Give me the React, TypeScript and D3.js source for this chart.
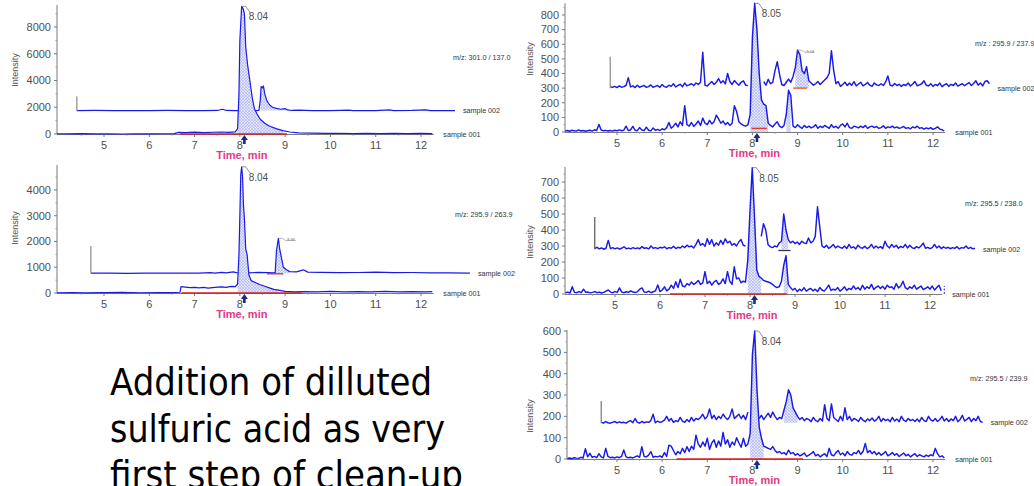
import React from 'react';
import * as d3 from 'd3';

type Pt = [number, number | null];

// ---------- DATA ----------
const STEP = 0.05;

// Panel 1 (m/z 301.0 / 137.0)
const P1_S001: Pt[] = [
  [3.96, 20], [4.2, 10], [4.5, 25], [4.8, 5], [5.1, 20], [5.4, 0], [5.7, 15], [6.0, 5], [6.3, 20], [6.55, 30],
  [6.65, 120], [6.8, 100], [7.0, 140], [7.2, 110], [7.4, 130], [7.6, 150], [7.75, 120], [7.9, 160], [7.95, 400],
  [7.98, 3000], [8.0, 7000], [8.02, 8300], [8.04, 9550], [8.07, 9400], [8.1, 9000], [8.13, 6500], [8.17, 5200],
  [8.22, 4000], [8.27, 2800], [8.32, 1900], [8.38, 1500], [8.45, 1100], [8.55, 800], [8.65, 600], [8.8, 400],
  [8.95, 250], [9.1, 150], [9.3, 90], [9.6, 60], [9.9, 40], [10.2, 55], [10.5, 30], [10.8, 50], [11.1, 35],
  [11.4, 45], [11.7, 30], [12.0, 50], [12.25, 30],
];
const P1_S002: Pt[] = [
  [4.4, 1750], [4.8, 1760], [5.2, 1745], [5.6, 1755], [6.0, 1750], [6.4, 1760], [6.8, 1750], [7.2, 1755],
  [7.5, 1760], [7.62, 1850], [7.7, 1760], [7.9, 1750], [8.3, 1750], [8.42, 1760], [8.45, 2500], [8.47, 3550],
  [8.5, 3450], [8.52, 3600], [8.55, 3000], [8.59, 2550], [8.63, 2300], [8.66, 2170], [8.72, 2000], [8.81, 1920],
  [8.9, 1850], [9.0, 1900], [9.05, 1800], [9.15, 1760], [9.3, 1780], [9.6, 1750], [10.0, 1755], [10.4, 1790],
  [10.5, 1750], [11.0, 1755], [11.3, 1800], [11.4, 1750], [11.8, 1760], [12.1, 1810], [12.2, 1750], [12.75, 1750],
];

// Panel 2 (m/z 295.9 / 263.9)
const P2_S001: Pt[] = [
  [3.96, 10], [4.3, 20], [4.6, 5], [5.0, 15], [5.4, 25], [5.8, 10], [6.2, 20], [6.5, 15], [6.68, 30], [6.7, 250],
  [6.8, 230], [6.9, 210], [7.0, 220], [7.1, 200], [7.2, 215], [7.3, 190], [7.4, 210], [7.5, 230], [7.6, 240],
  [7.7, 220], [7.8, 260], [7.9, 250], [7.95, 350], [7.98, 1500], [8.0, 3000], [8.02, 4600], [8.04, 4900],
  [8.06, 4500], [8.08, 3400], [8.1, 2900], [8.13, 1700], [8.16, 1500], [8.2, 700], [8.25, 480], [8.35, 400],
  [8.45, 320], [8.55, 260], [8.65, 200], [8.75, 140], [8.85, 110], [9.0, 60], [9.2, 40], [9.4, 55], [9.7, 45],
  [10.0, 60], [10.3, 40], [10.6, 55], [10.9, 45], [11.2, 60], [11.5, 45], [11.8, 55], [12.1, 40], [12.25, 50],
];
const P2_S002: Pt[] = [
  [4.71, 770], [5.1, 775], [5.5, 765], [5.9, 772], [6.3, 768], [6.7, 775], [7.1, 770], [7.35, 790], [7.45, 775],
  [7.6, 800], [7.7, 785], [7.85, 820], [7.92, 790], [8.2, 780], [8.4, 800], [8.6, 790], [8.75, 780], [8.78, 800],
  [8.81, 1670], [8.85, 2120], [8.88, 1700], [8.92, 1350], [8.96, 1000], [9.03, 900], [9.1, 830], [9.25, 820],
  [9.4, 900], [9.5, 810], [9.8, 800], [10.2, 790], [10.6, 795], [11.0, 810], [11.4, 790], [11.8, 795],
  [12.2, 785], [12.6, 780], [13.08, 775],
];

// Panel 3 (m/z 295.9 / 237.9)
const P3_S001_START = 3.85;
const P3_S001: (number | null)[] = [
  6, 10, 5, 12, 8, 6, 14, 7, 10, 5,
  9, 12, 6, 15, 10, 52, 14, 8, 11, 7,
  10, 6, 12, 8, 15, 9, 12, 40, 10, 14,
  38, 12, 9, 30, 14, 10, 33, 12, 8, 28,
  12, 18, 10, 22, 15, 30, 65, 25, 40, 60,
  35, 70, 45, 180, 50, 40, 65, 38, 55, 75,
  45, 95, 60, 50, 80, 55, 70, 115, 90, 60,
  75, 50, 65, 45, 60, 180, 140, 70, 55, 45,
  40, 48, 120, 650, 880, 700, 400, 220, 190, 180,
  60, 45, 35, 55, 70, 40, 30, 45, 120, 285,
  250, 40, 30, 50, 35, 25, 45, 30, 40, 28,
  35, 50, 25, 40, 30, 45, 35, 25, 50, 30,
  40, 25, 45, 55, 35, 60, 30, 25, 40, 35,
  28, 40, 30, 45, 25, 35, 40, 30, 38, 25,
  30, 42, 25, 35, 30, 40, 28, 35, 25, 30,
  38, 25, 30, 22, 35, 28, 40, 25, 30, 20,
  28, 22, 30, 18, 25, 35, 20, 15, 8,
];
const P3_S002_START = 4.85;
const P3_S002: (number | null)[] = [
  310, 305, 312, 304, 315, 306, 310, 318, 372, 308,
  315, 304, 320, 306, 312, 318, 305, 310, 322, 306,
  312, 318, 305, 325, 310, 306, 320, 312, 330, 308,
  318, 326, 310, 335, 315, 322, 330, 318, 335, 325,
  340, 545, 320, 315, 330, 345, 325, 340, 365, 335,
  350, 330, 400, 345, 325, 352, 335, 320, 340, 350,
  320, 318, null, null, null, null, null, null, 345, 320,
  360, 330, 340, 420, 480, 395, 325, 318, 340, 362,
  340, 380, 440, 560, 530, 420, 400, 446, 350, 335,
  320, 330, 345, 325, 340, 355, 370, 400, 555, 420,
  330, 345, 312, 325, 340, 318, 335, 320, 345, 315,
  328, 340, 316, 325, 338, 320, 312, 335, 322, 318,
  330, 318, 342, 383, 320, 315, 332, 318, 326, 312,
  325, 318, 335, 314, 328, 345, 316, 322, 330, 350,
  320, 315, 330, 312, 325, 318, 335, 310, 322, 330,
  312, 326, 318, 335, 314, 322, 330, 316, 328, 338,
  318, 332, 350, 320, 335, 315, 345, 350, 330,
];

// Panel 4 (m/z 295.5 / 238.0)
const P4_S001_START = 3.9;
const P4_S001: (number | null)[] = [
  8, 12, 6, 45, 10, 8, 15, 9, 30, 10,
  12, 7, 10, 15, 8, 12, 6, 10, 18, 25,
  12, 8, 15, 10, 38, 12, 8, 14, 10, 20,
  12, 9, 15, 30, 38, 12, 10, 18, 8, 14,
  20, 56, 15, 25, 45, 20, 30, 55, 35, 77,
  40, 92, 50, 45, 65, 55, 75, 60, 70, 85,
  60, 70, 140, 65, 80, 55, 75, 85, 60, 70,
  95, 65, 140, 80, 60, 170, 95, 100, 70, 80,
  75, 210, 520, 790, 480, 150, 110, 100, 85, 80,
  75, 70, 60, 48, 40, 45, 80, 180, 240, 60,
  40, 25, 35, 15, 30, 20, 40, 18, 28, 35,
  20, 30, 15, 40, 25, 18, 35, 56, 22, 30,
  25, 40, 18, 30, 45, 22, 35, 28, 50, 30,
  40, 25, 55, 30, 45, 35, 60, 28, 42, 50,
  35, 48, 30, 55, 40, 45, 30, 65, 38, 50,
  80, 40, 30, 45, 35, 55, 30, 40, 50, 28,
  35, 45, 30, 50, 25, 40, 55, 20,
];
const P4_S002_START = 4.55;
const P4_S002: (number | null)[] = [
  285, 292, 282, 288, 280, 286, 335, 284, 290, 282,
  288, 281, 286, 295, 283, 287, 282, 290, 284, 288,
  283, 296, 285, 289, 282, 300, 286, 290, 284, 292,
  288, 295, 283, 290, 286, 298, 284, 292, 288, 300,
  290, 305, 295, 300, 288, 310, 340, 305, 315, 298,
  345, 310, 340, 300, 320, 305, 335, 310, 345, 320,
  330, 305, 315, 300, 325, 340, 305, 300, null, null,
  null, null, null, null, 360, 440, 400, 310, 295, 290,
  300, 295, 320, 330, 500, 400, 340, 320, 330, 315,
  325, 310, 330, 320, 315, 350, 320, 330, 360, 545,
  420, 300, 290, 305, 285, 295, 310, 288, 300, 292,
  286, 300, 284, 310, 288, 295, 282, 305, 290, 286,
  298, 284, 292, 310, 286, 300, 288, 296, 284, 330,
  300, 288, 310, 292, 305, 286, 298, 290, 310, 288,
  305, 290, 284, 296, 288, 300, 318, 286, 292, 284,
  290, 310, 288, 300, 284, 295, 286, 292, 283, 290,
  285, 296, 282, 290, 287, 300, 284, 292, 282, 286,
];

// Panel 5 (m/z 295.5 / 239.9)
const P5_S001_START = 3.9;
const P5_S001: (number | null)[] = [
  3, 5, 2, 6, 4, 3, 8, 5, 48, 10,
  27, 8, 12, 6, 25, 10, 5, 50, 12, 6,
  8, 5, 10, 6, 12, 42, 10, 6, 8, 5,
  10, 15, 8, 58, 12, 10, 18, 35, 8, 12,
  10, 15, 8, 30, 12, 65, 60, 40, 20, 35,
  25, 50, 30, 58, 35, 60, 45, 112, 70, 55,
  80, 60, 97, 45, 75, 90, 55, 85, 60, 125,
  70, 90, 55, 80, 65, 100, 75, 55, 97, 60,
  70, 120, 490, 600, 330, 150, 97, 60, 55, 50,
  45, 58, 40, 30, 35, 25, 30, 20, 42, 25,
  30, 18, 25, 15, 20, 28, 12, 18, 25, 35,
  15, 22, 10, 18, 25, 12, 50, 20, 15, 30,
  40, 20, 28, 15, 35, 22, 18, 30, 25, 40,
  22, 35, 73, 30, 40, 25, 35, 20, 30, 18,
  25, 35, 15, 22, 30, 18, 25, 12, 20, 28,
  15, 22, 10, 18, 25, 12, 20, 15, 10, 18,
  12, 20, 15, 50, 25, 10, 15, 5,
];
const P5_S002_START = 4.65;
const P5_S002: (number | null)[] = [
  172, 168, 175, 170, 168, 172, 176, 169, 174, 170,
  172, 168, 175, 180, 170, 190, 172, 168, 176, 170,
  174, 172, 180, 210, 170, 178, 172, 175, 182, 200,
  178, 190, 172, 180, 175, 195, 178, 172, 185, 175,
  195, 178, 190, 185, 195, 210, 188, 200, 235, 190,
  205, 185, 200, 190, 210, 195, 185, 200, 235, 190,
  200, 210, 190, 205, 185, 220, null, null, null, null,
  190, 205, 185, 200, 215, 195, 220, 200, 185, 195,
  190, 230, 270, 325, 300, 240, 220, 200, 185, 195,
  180, 190, 185, 175, 195, 180, 175, 190, 178, 255,
  190, 180, 258, 195, 185, 176, 200, 180, 240, 185,
  200, 178, 190, 185, 176, 195, 182, 175, 188, 180,
  192, 178, 185, 200, 176, 190, 180, 186, 175, 195,
  178, 188, 175, 200, 182, 176, 190, 180, 185, 176,
  188, 175, 195, 180, 176, 200, 184, 178, 190, 176,
  185, 200, 178, 190, 176, 188, 180, 200, 175, 185,
  205, 178, 186, 195, 175, 190, 180, 200, 176, 172,
];

const X_TICKS = [5, 6, 7, 8, 9, 10, 11, 12];
const P1_Y_TICKS = [0, 2000, 4000, 6000, 8000];
const P2_Y_TICKS = [0, 1000, 2000, 3000, 4000];
const P3_Y_TICKS = [0, 100, 200, 300, 400, 500, 600, 700, 800];
const P4_Y_TICKS = [0, 100, 200, 300, 400, 500, 600, 700];
const P5_Y_TICKS = [0, 100, 200, 300, 400, 500, 600];

const TEXT_LINES = ['Addition of dilluted', 'sulfuric acid as very', 'first step of clean-up'];

function sampled(start: number, vals: (number | null)[]): Pt[] {
  return vals.map((v, i) => [start + i * STEP, v] as Pt);
}

// ---------- PANELS ----------
interface PanelCfg {
  id: string;
  x5: number; x12: number; axisLeft: number; axisEndT: number;
  yBase: number; yTop: number; yMax: number; yTicks: number[]; yMinor: number;
  s001: Pt[]; s002: Pt[]; base002: number; stubTop: number; stubColor: string;
  fill001: [number, number][]; fill002: [number, number][];
  integ001: [number, number, number, string][]; integ002: [number, number, number, string][];
  peak: { t: number; v: number; label: string };
  flag?: { t: number; v: number; label: string };
  mz: string; mzX: number; mzY: number;
  intX: number; intY: number;
  traceW: number;
  endDash?: boolean;
}

const PANELS: PanelCfg[] = [
  {
    id: 'p1', x5: 104, x12: 421, axisLeft: 57, axisEndT: 12.28,
    yBase: 134, yTop: 5, yMax: 9650, yTicks: P1_Y_TICKS, yMinor: 1000,
    s001: P1_S001, s002: P1_S002, base002: 1750, stubTop: 2800, stubColor: '#8a8a8a',
    fill001: [[7.93, 9.05]], fill002: [[8.43, 9.1]],
    integ001: [[6.68, 9.04, 0, '#d02020']], integ002: [],
    peak: { t: 8.04, v: 9550, label: '8.04' },
    mz: 'm/z: 301.0 / 137.0', mzX: 453, mzY: 60, intX: 15, intY: 70, traceW: 1.2,
  },
  {
    id: 'p2', x5: 104, x12: 421, axisLeft: 57, axisEndT: 12.28,
    yBase: 293, yTop: 165, yMax: 4970, yTicks: P2_Y_TICKS, yMinor: 500,
    s001: P2_S001, s002: P2_S002, base002: 770, stubTop: 1825, stubColor: '#8a8a8a',
    fill001: [[7.93, 8.9]], fill002: [[8.78, 9.15]],
    integ001: [[6.71, 9.36, 0, '#d02020']], integ002: [[8.6, 8.96, 745, '#c03030']],
    peak: { t: 8.04, v: 4900, label: '8.04' },
    flag: { t: 8.85, v: 2120, label: '8.86' },
    mz: 'm/z: 295.9 / 263.9', mzX: 455, mzY: 217, intX: 15, intY: 228, traceW: 1.2,
  },
  {
    id: 'p3', x5: 617, x12: 933, axisLeft: 565, axisEndT: 12.27,
    yBase: 132, yTop: 3.3, yMax: 880, yTicks: P3_Y_TICKS, yMinor: 50,
    s001: sampled(P3_S001_START, P3_S001), s002: sampled(P3_S002_START, P3_S002), base002: 300, stubTop: 515, stubColor: '#8a8a8a',
    fill001: [[7.93, 8.36], [8.72, 8.88]], fill002: [[8.93, 9.25]],
    integ001: [[7.98, 8.32, 25, '#e03a2a']], integ002: [[8.9, 9.21, 300, '#e05a20']],
    peak: { t: 8.05, v: 880, label: '8.05' },
    flag: { t: 9.0, v: 560, label: '9.04' },
    mz: 'm/z : 295.9 / 237.9', mzX: 975, mzY: 46, intX: 530, intY: 59, traceW: 1.45,
  },
  {
    id: 'p4', x5: 615, x12: 930, axisLeft: 565, axisEndT: 12.27,
    yBase: 294, yTop: 167, yMax: 794, yTicks: P4_Y_TICKS, yMinor: 50,
    s001: sampled(P4_S001_START, P4_S001), s002: sampled(P4_S002_START, P4_S002), base002: 280, stubTop: 481, stubColor: '#555555',
    fill001: [[7.93, 8.26], [8.72, 8.86]], fill002: [[8.7, 8.85]],
    integ001: [[6.22, 8.82, 0, '#d82020']], integ002: [[8.63, 8.9, 272, '#333333']],
    peak: { t: 8.05, v: 790, label: '8.05' },
    mz: 'm/z: 295.5 / 238.0', mzX: 965, mzY: 206, intX: 530, intY: 242, traceW: 1.45,
    endDash: true,
  },
  {
    id: 'p5', x5: 617, x12: 933, axisLeft: 567, axisEndT: 12.27,
    yBase: 459, yTop: 330, yMax: 605, yTicks: P5_Y_TICKS, yMinor: 50,
    s001: sampled(P5_S001_START, P5_S001), s002: sampled(P5_S002_START, P5_S002), base002: 170, stubTop: 272, stubColor: '#777777',
    fill001: [[7.93, 8.26]], fill002: [[8.68, 9.02]],
    integ001: [[6.32, 9.12, 0, '#d82020']], integ002: [],
    peak: { t: 8.05, v: 600, label: '8.04' },
    mz: 'm/z: 295.5 / 239.9', mzX: 970, mzY: 381, intX: 530, intY: 416, traceW: 1.45,
  },
];

const TRACE = '#1a1ae8';
const SANS = '"Liberation Sans", Arial, sans-serif';

function Panel({ c }: { c: PanelCfg }) {
  const xs = d3.scaleLinear().domain([5, 12]).range([c.x5, c.x12]);
  const ys = d3.scaleLinear().domain([0, c.yMax]).range([c.yBase, c.yTop]);
  const line = d3.line<Pt>().defined(d => d[1] != null).x(d => xs(d[0])).y(d => ys(d[1] as number));
  const area = (base: number) =>
    d3.area<Pt>().defined(d => d[1] != null).x(d => xs(d[0])).y0(ys(base)).y1(d => ys(d[1] as number));
  const inRange = (data: Pt[], r: [number, number]) => data.filter(d => d[0] >= r[0] - 1e-9 && d[0] <= r[1] + 1e-9);

  const minorY = d3.range(c.yMinor, c.yMax, c.yMinor * 2);
  const minorX = d3.range(4.5, 12.3, 1);
  const tStart002 = c.s002[0][0];
  const end002 = c.s002[c.s002.length - 1][0];
  const end001 = c.s001[c.s001.length - 1][0];
  const px = xs(c.peak.t), py = ys(c.peak.v);
  const arrowX = xs(8.1), ab = c.yBase;

  return (
    <g>
      {/* y axis */}
      <line x1={c.axisLeft} x2={c.axisLeft} y1={c.yTop} y2={c.yBase} stroke="#7a7a7a" strokeWidth={1} />
      {c.yTicks.map(v => (
        <g key={'yt' + v}>
          <line x1={c.axisLeft - 3} x2={c.axisLeft} y1={ys(v)} y2={ys(v)} stroke="#7a7a7a" />
          <text x={c.axisLeft - 6} y={ys(v)} dy="0.35em" textAnchor="end" fontSize={11} fill="#505050" fontFamily={SANS}>{v}</text>
        </g>
      ))}
      {minorY.map(v => (
        <line key={'ym' + v} x1={c.axisLeft - 1.5} x2={c.axisLeft} y1={ys(v)} y2={ys(v)} stroke="#9a9a9a" />
      ))}
      <text transform={`translate(${c.intX},${c.intY}) rotate(-90)`} textAnchor="middle" dy="0.35em" fontSize={9} fill="#555" fontFamily={SANS}>Intensity</text>
      {/* x axis */}
      <line x1={c.axisLeft} x2={xs(c.axisEndT)} y1={c.yBase + 0.5} y2={c.yBase + 0.5} stroke="#7a7a7a" />
      {X_TICKS.map(t => (
        <g key={'xt' + t}>
          <line x1={xs(t)} x2={xs(t)} y1={c.yBase} y2={c.yBase + 3} stroke="#7a7a7a" />
          <text x={xs(t)} y={c.yBase + 15} textAnchor="middle" fontSize={11} fill="#505050" fontFamily={SANS}>{t}</text>
        </g>
      ))}
      {minorX.map(t => (
        <line key={'xm' + t} x1={xs(t)} x2={xs(t)} y1={c.yBase} y2={c.yBase + 1.8} stroke="#9a9a9a" />
      ))}
      <text x={xs(8) + 2} y={c.yBase + 25} textAnchor="middle" fontSize={11} fontWeight="bold" fill="#e23a85" fontFamily={SANS}>Time, min</text>

      {/* sample 002 */}
      {c.fill002.map((r, i) => (
        <path key={'f2' + i} d={area(c.base002)(inRange(c.s002, r)) || ''} fill="url(#hatch)" stroke="none" />
      ))}
      <path d={line(c.s002) || ''} fill="none" stroke={TRACE} strokeWidth={c.traceW} strokeLinejoin="round" />
      <line x1={xs(tStart002)} x2={xs(tStart002)} y1={ys(c.stubTop)} y2={ys(c.base002)} stroke={c.stubColor} strokeWidth={1.2} />
      {c.integ002.map((s, i) => (
        <line key={'i2' + i} x1={xs(s[0])} x2={xs(s[1])} y1={ys(s[2])} y2={ys(s[2])} stroke={s[3]} strokeWidth={1.3} />
      ))}
      {c.flag && (
        <g>
          <path d={`M${xs(c.flag.t)},${ys(c.flag.v)} h4 l3,2 h10`} fill="none" stroke="#888" strokeWidth={0.6} />
          <text x={xs(c.flag.t) + 9} y={ys(c.flag.v) + 2.5} fontSize={4} fill="#777" fontFamily={SANS}>{c.flag.label}</text>
        </g>
      )}

      {/* sample 001 */}
      {c.fill001.map((r, i) => (
        <path key={'f1' + i} d={area(0)(inRange(c.s001, r)) || ''} fill="url(#hatch)" stroke="none" />
      ))}
      <path d={line(c.s001) || ''} fill="none" stroke={TRACE} strokeWidth={c.traceW} strokeLinejoin="round" />
      {c.integ001.map((s, i) => (
        <line key={'i1' + i} x1={xs(s[0])} x2={xs(s[1])} y1={ys(s[2])} y2={ys(s[2])} stroke={s[3]} strokeWidth={1.4} />
      ))}
      {c.endDash && (
        <line x1={xs(end001) + 3} x2={xs(end001) + 3} y1={ys(0)} y2={ys(0) - 8} stroke={TRACE} strokeWidth={1} strokeDasharray="2,1.5" />
      )}

      {/* peak label */}
      <path d={`M${px},${py} h4 l5,7`} fill="none" stroke="#777" strokeWidth={0.8} />
      <text x={px + 7} y={py + 14} fontSize={10} fill="#505050" fontFamily={SANS}>{c.peak.label}</text>
      {/* retention arrow */}
      <polygon
        points={`${arrowX},${ab + 1} ${arrowX - 3.5},${ab + 6} ${arrowX - 1.3},${ab + 6} ${arrowX - 1.3},${ab + 10} ${arrowX + 1.3},${ab + 10} ${arrowX + 1.3},${ab + 6} ${arrowX + 3.5},${ab + 6}`}
        fill="#1b2a85"
      />

      {/* labels */}
      <text x={c.mzX} y={c.mzY} fontSize={7.2} fill="#333" fontFamily={SANS}>{c.mz}</text>
      <text x={xs(end002) + 8} y={ys(c.base002)} dy="0.35em" fontSize={7.2} fill="#333" fontFamily={SANS}>sample 002</text>
      <text x={xs(end001) + 11} y={ys(0)} dy="0.35em" fontSize={7.2} fill="#333" fontFamily={SANS}>sample 001</text>
    </g>
  );
}

export default function App() {
  const lineX = 110;
  const lineY = [395, 441.7, 488.4];
  const lineW = [322, 335, 353];
  return (
    <svg width={1034} height={486} viewBox="0 0 1034 486"
      style={{ position: 'absolute', left: 0, top: 0, display: 'block', background: '#fff' }}>
      <defs>
        <pattern id="hatch" width="3" height="3" patternUnits="userSpaceOnUse">
          <rect width="3" height="3" fill="#e4e7fc" />
          <path d="M0,0 L3,3 M3,0 L0,3" stroke="#a3abf0" strokeWidth="0.55" />
        </pattern>
      </defs>
      <rect width={1034} height={486} fill="#fff" />
      {PANELS.map(p => <Panel key={p.id} c={p} />)}
      {TEXT_LINES.map((t, i) => (
        <text key={i} x={lineX} y={lineY[i]} fontSize={37} fill="#000" fontFamily='"DejaVu Sans", Verdana, sans-serif'
          textLength={lineW[i]} lengthAdjust="spacingAndGlyphs">{t}</text>
      ))}
    </svg>
  );
}
